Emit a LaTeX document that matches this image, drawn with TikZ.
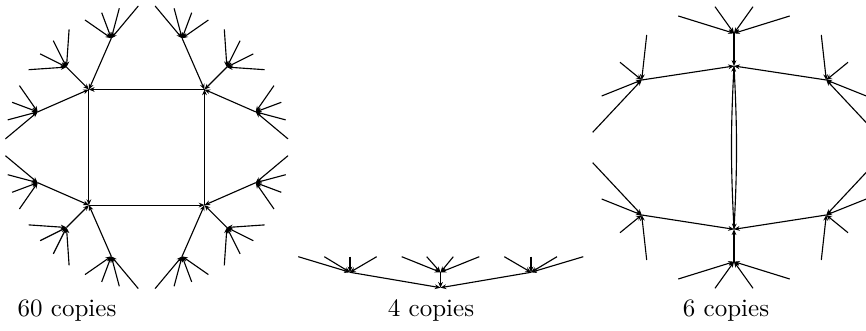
\documentclass[tikz,border=0pt]{standalone}
\usetikzlibrary{arrows.meta}
\begin{document}
\begin{tikzpicture}[x=0.4pt,y=-0.4pt,
  edge/.style={line width=0.45pt,-{Stealth[length=2.3pt,width=1.9pt]}},
  lensedge/.style={edge,bend left=3},
  caption/.style={anchor=base,inner sep=0pt}]
\useasboundingbox (0,0) rectangle (866,331);
\clip (0,0) rectangle (866,331);

% ---- left graph: a directed 4-cycle, each vertex with three in-trees of four leaves
\foreach \q/\sx/\sy in {a/1/1,b/-1/1,c/1/-1,d/-1/-1}{
  \coordinate (k\q) at ({146.7-57.8*\sx},{147.3-57.8*\sy});
  \coordinate (u\q) at ({146.7-35.4*\sx},{147.3-109*\sy});
  \coordinate (w\q) at ({146.7-109*\sx},{147.3-35.4*\sy});
  \coordinate (v\q) at ({146.7-80.2*\sx},{147.3-80.2*\sy});
  \foreach \i/\a/\b in {1/61.7/127.3,2/45/134.6,3/27.4/139,4/8.4/141.3}{
    \coordinate (u\q\i) at ({146.7-\a*\sx},{147.3-\b*\sy});
    \coordinate (w\q\i) at ({146.7-\b*\sx},{147.3-\a*\sy});
    \draw[edge] (u\q\i) -- (u\q);
    \draw[edge] (w\q\i) -- (w\q);
  }
  \foreach \i/\a/\b in {1/77.6/118,2/93.4/106.6,3/106.6/93.4,4/118/77.6}{
    \coordinate (v\q\i) at ({146.7-\a*\sx},{147.3-\b*\sy});
    \draw[edge] (v\q\i) -- (v\q);
  }
  \draw[edge] (u\q) -- (k\q);
  \draw[edge] (v\q) -- (k\q);
  \draw[edge] (w\q) -- (k\q);
}
\draw[edge] (kb) -- (ka);
\draw[edge] (ka) -- (kc);
\draw[edge] (kc) -- (kd);
\draw[edge] (kd) -- (kb);

% ---- middle graph: a root with three children of four leaves each
\coordinate (mr) at (440.5,287.7);
\foreach \c/\x/\la/\lb/\lc/\ld in {L/350/298.3/324.3/350/376.7,
                                   M/440.5/401.7/426.7/453.3/479.3,
                                   R/531/504.3/531/557/583.3}{
  \coordinate (m\c) at (\x,272.3);
  \draw[edge] (m\c) -- (mr);
  \foreach \i/\lx in {1/\la,2/\lb,3/\lc,4/\ld}{
    \coordinate (m\c\i) at (\lx,256.7);
    \draw[edge] (m\c\i) -- (m\c);
  }
}

% ---- right graph: a directed 2-cycle, each vertex with three in-trees
\coordinate (T) at (734,66);
\coordinate (B) at (734,229.3);
\draw[lensedge] (T) to (B);
\draw[lensedge] (B) to (T);
\coordinate (TT) at (734,33.3);
\coordinate (BB) at (734,261.7);
\draw[edge] (TT) -- (T);
\draw[edge] (BB) -- (B);
\foreach \i/\x/\y in {1/678.3/16,2/715/6.7,3/753/6.7,4/789.7/16}{
  \coordinate (TT\i) at (\x,\y);
  \coordinate (BB\i) at (\x,{295-\y});
  \draw[edge] (TT\i) -- (TT);
  \draw[edge] (BB\i) -- (BB);
}
\foreach \s/\sx in {l/1,r/-1}{
  \coordinate (U\s) at ({734-92.3*\sx},80);
  \coordinate (D\s) at ({734-92.3*\sx},215);
  \draw[edge] (U\s) -- (T);
  \draw[edge] (D\s) -- (B);
  \foreach \i/\a/\y in {1/87.3/35,2/114/62.3,3/132.3/96,4/141.3/132.3}{
    \coordinate (U\s\i) at ({734-\a*\sx},\y);
    \coordinate (D\s\i) at ({734-\a*\sx},{295-\y});
    \draw[edge] (U\s\i) -- (U\s);
    \draw[edge] (D\s\i) -- (D\s);
  }
}

% ---- captions
\node[caption] (c1) at (67,317) {60 copies};
\node[caption] (c2) at (431,317) {4 copies};
\node[caption] (c3) at (726,317) {6 copies};
\end{tikzpicture}
\end{document}
